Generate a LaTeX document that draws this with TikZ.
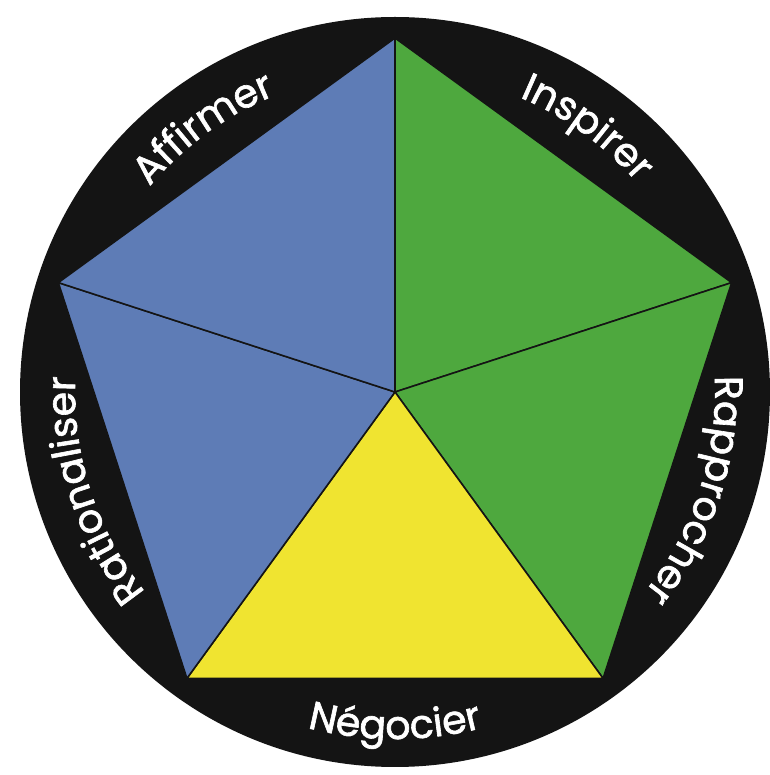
\documentclass[tikz,border=0pt]{standalone}
\usepackage{fontspec}
\usetikzlibrary{decorations.text}
\newfontfamily\poppins[FakeBold=1.6]{Poppins}
\newcommand\lblfont{\fontsize{22.5}{22.5}\selectfont\poppins}
\definecolor{bl}{RGB}{94,124,182}
\definecolor{gr}{RGB}{78,168,62}
\definecolor{ye}{RGB}{240,228,48}
\definecolor{rim}{RGB}{20,20,20}

\begin{document}
\begin{tikzpicture}[x=0.02cm,y=0.02cm,
    tri/.style={draw=rim,line width=0.9pt,line join=round},
    lbl/.style={decorate,decoration={text along path,text align=center,text color=white,text={|\lblfont|#1}}},
]
\useasboundingbox (0,0) rectangle (769,775);
\fill[white] (0,0) rectangle (769,775);
\begin{scope}[shift={(395,383)}]
\fill[rim] (0,0) circle (375);
\coordinate (c) at (0,0);
\foreach \a/\n in {90/p1,18/p2,-54/p3,-126/p4,162/p5}
    \coordinate (\n) at (\a:354);
% five sectors
\filldraw[tri,fill=gr] (c) -- (p1) -- (p2) -- cycle;
\filldraw[tri,fill=gr] (c) -- (p2) -- (p3) -- cycle;
\filldraw[tri,fill=ye] (c) -- (p3) -- (p4) -- cycle;
\filldraw[tri,fill=bl] (c) -- (p4) -- (p5) -- cycle;
\filldraw[tri,fill=bl] (c) -- (p5) -- (p1) -- cycle;
% labels on the rim
\path[lbl=Affirmer] (166:320) arc[start angle=166,end angle=86,radius=320];
\path[lbl=Inspirer] (94:320) arc[start angle=94,end angle=14,radius=320];
\path[lbl=Rapprocher] (22:320) arc[start angle=22,end angle=-58,radius=320];
\path[lbl=Rationaliser] (238:320) arc[start angle=238,end angle=158,radius=320];
\path[lbl=N{\'e}gocier] (230:347) arc[start angle=230,end angle=310,radius=347];
\end{scope}
\end{tikzpicture}
\end{document}
